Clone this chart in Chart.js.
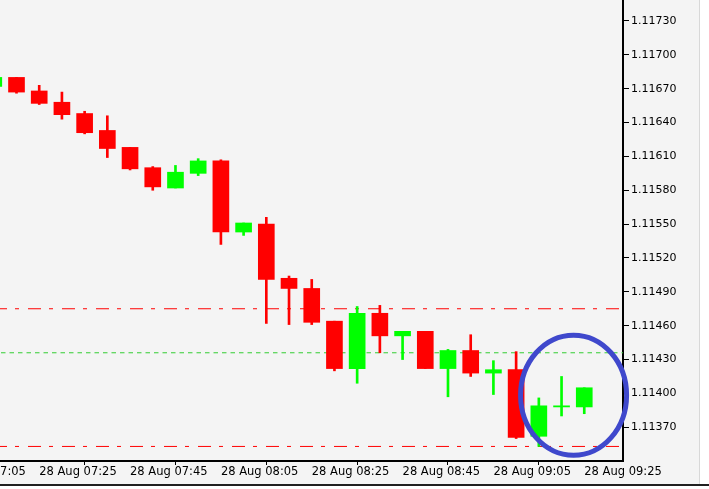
<!DOCTYPE html>
<html>
<head>
<meta charset="utf-8">
<script src="https://cdn.jsdelivr.net/npm/chart.js@4/dist/chart.umd.min.js"></script>
<style>
  html, body { margin: 0; padding: 0; background: #ffffff; }
  canvas { display: block; }
</style>
</head>
<body>
<canvas id="c" width="709" height="489"></canvas>
<script>
// ---- data ----
const times = ['07:15','07:20','07:25','07:30','07:35','07:40','07:45','07:50','07:55','08:00',
               '08:05','08:10','08:15','08:20','08:25','08:30','08:35','08:40','08:45','08:50',
               '08:55','09:00','09:05','09:10','09:15','09:20','09:25'];
const opens  = [1.11672,1.11680,1.11668,1.11658,1.11648,1.11633,1.11618,1.11600,1.11582,1.11595,
                1.11606,1.11543,1.11550,1.11502,1.11493,1.11464,1.11422,1.11471,1.11451,1.11455,
                1.11422,1.11438,1.11418,1.11421,1.11362,1.11388,1.11388];
const highs  = [1.11681,1.11680,1.11673,1.11667,1.11650,1.11646,1.11618,1.11601,1.11602,1.11608,
                1.11607,1.11551,1.11556,1.11504,1.11501,1.11464,1.11477,1.11478,1.11455,1.11455,
                1.11439,1.11452,1.11429,1.11437,1.11396,1.11415,1.11405];
const lows   = [1.11672,1.11666,1.11656,1.11643,1.11630,1.11609,1.11598,1.11580,1.11582,1.11593,
                1.11532,1.11540,1.11462,1.11461,1.11461,1.11420,1.11409,1.11436,1.11430,1.11422,
                1.11397,1.11415,1.11399,1.11360,1.11353,1.11380,1.11382];
const closes = [1.11680,1.11667,1.11657,1.11647,1.11631,1.11617,1.11599,1.11583,1.11596,1.11606,
                1.11543,1.11551,1.11501,1.11493,1.11463,1.11422,1.11471,1.11451,1.11455,1.11422,
                1.11438,1.11418,1.11421,1.11361,1.11389,1.11389,1.11405];
const levelsRed   = [1.11475, 1.11353];
const levelGreen  = 1.11436;
const xTickIdx    = [-2, 2, 6, 10, 14, 18, 22, 26];
const xTickLabels = ['28 Aug 07:05','28 Aug 07:25','28 Aug 07:45','28 Aug 08:05',
                     '28 Aug 08:25','28 Aug 08:45','28 Aug 09:05','28 Aug 09:25'];
const yTicks = [1.11370,1.11400,1.11430,1.11460,1.11490,1.11520,1.11550,1.11580,
                1.11610,1.11640,1.11670,1.11700,1.11730];
const ellipse = { x: 25.53, y: 1.113984, rx: 2.334, ry: 0.000532 };

// view window
const X_MIN = 0.2735, X_MAX = 27.706;
const Y_MIN = 1.113401, Y_MAX = 1.117486;

const RED = '#ff0000', GREEN = '#00ff00';
const up = closes.map((c, i) => c >= opens[i]);
const colors = up.map(u => u ? GREEN : RED);

const bodies = times.map((t, i) => ({ x: i, y: [opens[i], closes[i]] }));
const wicks  = times.map((t, i) => ({ x: i, y: [lows[i], highs[i]] }));

const levelDatasets = [];
levelsRed.forEach(v => levelDatasets.push({
  type: 'line',
  data: [{ x: X_MIN, y: v }, { x: X_MAX, y: v }],
  borderColor: RED, borderWidth: 1, borderDash: [13, 8, 4, 9], borderDashOffset: 6,
  pointRadius: 0, order: 10, fill: false
}));
levelDatasets.push({
  type: 'line',
  data: [{ x: X_MIN, y: levelGreen }, { x: X_MAX, y: levelGreen }],
  borderColor: '#32cd32', borderWidth: 1, borderDash: [4.5, 4], borderDashOffset: -1,
  pointRadius: 0, order: 10, fill: false
});

const frame = {
  id: 'frame',
  beforeDraw(chart) {
    const ctx = chart.ctx;
    ctx.save();
    ctx.fillStyle = '#ffffff';
    ctx.fillRect(0, 0, chart.width, chart.height);
    ctx.fillStyle = '#f4f4f4';
    ctx.fillRect(0, 0, 699, 484);
    ctx.fillStyle = '#d8d8d8';
    ctx.fillRect(699, 0, 1, 484);
    ctx.fillStyle = '#202020';
    ctx.fillRect(0, 484, chart.width, 2);
    ctx.restore();
  },
  afterDraw(chart) {
    const ctx = chart.ctx;
    const xs = chart.scales.x, ys = chart.scales.y;
    const cx = xs.getPixelForValue(ellipse.x);
    const cy = ys.getPixelForValue(ellipse.y);
    const rx = xs.getPixelForValue(ellipse.x + ellipse.rx) - cx;
    const ry = cy - ys.getPixelForValue(ellipse.y + ellipse.ry);
    ctx.save();
    ctx.strokeStyle = '#3f48cc';
    ctx.lineWidth = 5;
    ctx.beginPath();
    ctx.ellipse(cx, cy, rx, ry, 0, 0, Math.PI * 2);
    ctx.stroke();
    ctx.restore();
  }
};

new Chart(document.getElementById('c'), {
  type: 'bar',
  data: {
    datasets: [
      { data: bodies, backgroundColor: colors, barThickness: 16, grouped: false, order: 1, borderWidth: 0 },
      { data: wicks,  backgroundColor: colors, barThickness: 2,  grouped: false, order: 2, borderWidth: 0 },
      ...levelDatasets
    ]
  },
  options: {
    responsive: false,
    animation: false,
    events: [],
    layout: { padding: 0, autoPadding: false },
    plugins: { legend: { display: false }, tooltip: { enabled: false } },
    scales: {
      x: {
        type: 'linear', position: 'bottom', min: X_MIN, max: X_MAX, offset: false,
        afterBuildTicks: s => { s.ticks = xTickIdx.map(v => ({ value: v })); },
        afterFit: s => { s.height = 28; s.paddingLeft = 0; s.paddingRight = 0; },
        grid: { drawOnChartArea: false, drawTicks: true, tickLength: 4, tickColor: '#000', tickWidth: 1 },
        border: { display: true, color: '#000', width: 2 },
        ticks: {
          autoSkip: false, maxRotation: 0, minRotation: 0, align: 'start', padding: 0,
          color: '#000', font: { family: 'DejaVu Sans', size: 11.5 },
          callback: (v) => { const k = xTickIdx.indexOf(v); return k >= 0 ? xTickLabels[k] : ''; }
        }
      },
      y: {
        type: 'linear', position: 'right', min: Y_MIN, max: Y_MAX,
        afterBuildTicks: s => { s.ticks = yTicks.map(v => ({ value: v })); },
        afterFit: s => { s.width = 86; s.paddingTop = 0; s.paddingBottom = 0; },
        grid: { drawOnChartArea: false, drawTicks: true, tickLength: 6, tickColor: '#000', tickWidth: 1 },
        border: { display: true, color: '#000', width: 2 },
        ticks: {
          autoSkip: false, padding: 2, color: '#000',
          font: { family: 'DejaVu Sans', size: 11 },
          callback: v => Number(v).toFixed(5)
        }
      }
    }
  },
  plugins: [frame]
});
</script>
</body>
</html>
